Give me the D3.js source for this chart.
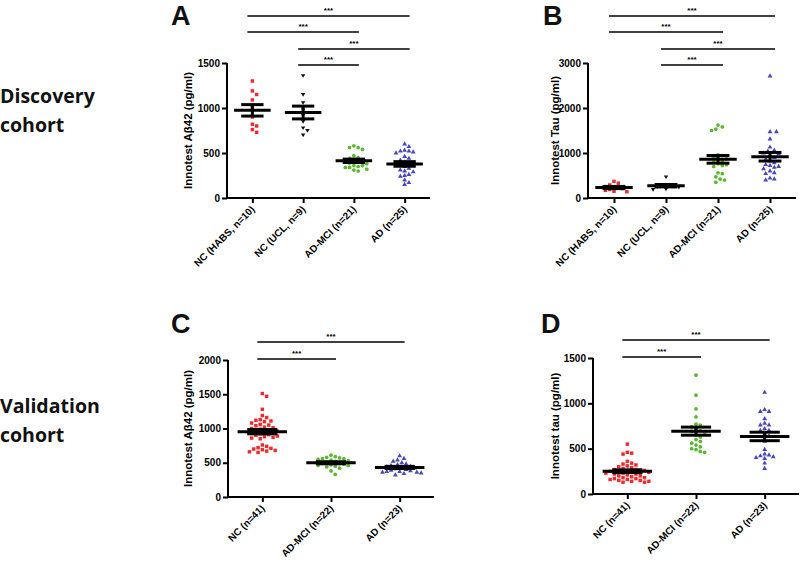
<!DOCTYPE html>
<html><head><meta charset="utf-8">
<script src="https://cdn.jsdelivr.net/npm/d3@7"></script>
<style>body{margin:0;background:#fff}svg{display:block}</style>
</head><body><svg id="c" width="800" height="562"></svg>
<script>
// ---------- data ----------
const catsDiscovery = ["NC (HABS, n=10)", "NC (UCL, n=9)", "AD-MCI (n=21)", "AD (n=25)"];
const catsValidation = ["NC (n=41)", "AD-MCI (n=22)", "AD (n=23)"];

const abDiscNCHABS = [1300,1190,1150,1090,1000,900,820,800,760,730];
const abDiscNCUCL = [1360,1150,1060,980,920,850,780,750,700];
const abDiscMCI = [580,560,560,540,470,450,440,420,410,400,400,390,380,360,360,350,340,340,320,310,300];
const abDiscAD = [600,570,530,520,520,510,500,460,440,420,400,390,380,370,350,330,310,300,290,260,250,240,200,170,150];

const tauDiscNCHABS = [370,330,290,250,230,210,190,170,150,140];
const tauDiscNCUCL = [470,300,280,270,260,250,240,200,190];
const tauDiscMCI = [1620,1580,1530,1500,960,940,900,870,860,820,800,760,740,720,700,560,540,470,420,400,350];
const tauDiscAD = [2710,1470,1470,1310,1130,1060,1040,1000,980,940,900,860,820,780,740,720,700,680,650,600,560,540,440,420,400];

const abValNC = [1510,1470,1280,1190,1160,1130,1120,1110,1100,1000,990,980,970,960,950,940,930,920,910,900,890,880,870,860,850,1050,1040,1020,1010,1080,1060,760,740,720,710,700,690,680,670,660,650];
const abValMCI = [610,590,580,570,560,560,550,540,530,520,510,500,490,480,470,460,460,450,440,420,380,330];
const abValAD = [600,560,540,520,500,480,470,460,450,440,430,420,410,400,390,380,370,370,360,360,350,340,320];

const tauValNC = [550,460,450,440,360,340,330,320,310,300,290,280,270,260,260,250,250,240,240,230,230,220,220,210,200,200,190,180,180,170,170,160,160,150,150,140,140,130,130,260,270];
const tauValMCI = [1310,1090,940,850,770,760,740,720,700,690,680,650,630,600,580,560,540,520,500,490,470,460];
const tauValAD = [1120,930,910,910,830,780,760,760,720,700,700,660,640,580,490,440,430,420,410,400,390,340,280];

const ticksA = [0,500,1000,1500];
const ticksB = [0,1000,2000,3000];
const ticksC = [0,500,1000,1500,2000];
const ticksD = [0,500,1000,1500];

const sigA = [[0,3],[0,2],[1,3],[1,2]];
const sigC = [[0,2],[0,1]];

// ---------- drawing ----------
const svg = d3.select("#c");
const colors = {red:"#ee2a2e", black:"#111", green:"#59b830", blue:"#4646bf"};
const shapes = {red:"sq", black:"down", green:"ci", blue:"tri"};
const FONT = "Liberation Sans, Arial, sans-serif";

function markerPath(kind){
  if(kind==="down") return "M-2.2,-1.4L2.2,-1.4L0,2.2Z";
  if(kind==="sq") return d3.symbol(d3.symbolSquare,12)();
  if(kind==="ci") return d3.symbol(d3.symbolCircle,11)();
  return d3.symbol(d3.symbolTriangle,10)();
}

function beeswarm(vals, y, cx, d){
  const pts = vals.map(v=>({v, y:y(v)})).sort((a,b)=>a.y-b.y);
  const placed=[];
  pts.forEach(p=>{
    for(let k=0;k<60;k++){
      const off = (k===0)?0:(k%2? 1:-1)*Math.ceil(k/2)*d*0.5;
      const x = cx+off;
      if(placed.every(q=>Math.hypot(q.x-x,q.y-p.y)>=d)){p.x=x;placed.push(p);break;}
    }
  });
  return placed;
}

function panel(o){
  const g = svg.append("g");
  const x = d3.scalePoint().domain(o.cats).range([o.x0,o.x1]).padding(0.5);
  const step = x.step();
  const y = d3.scaleLinear().domain([0,o.ymax]).range([o.y0,o.y1]);
  // axes
  const ya = g.append("g").attr("transform",`translate(${o.x0},0)`)
    .call(d3.axisLeft(y).tickValues(o.ticks).tickSize(5).tickPadding(2).tickFormat(d3.format("d")));
  const xa = g.append("g").attr("transform",`translate(0,${o.y0})`)
    .call(d3.axisBottom(x).tickSize(5).tickFormat(""));
  [ya,xa].forEach(a=>{a.select(".domain").attr("stroke","#000").attr("stroke-width",2);
    a.selectAll(".tick line").attr("stroke","#000").attr("stroke-width",2);});
  ya.select(".domain").attr("d",`M0,${o.y1}V${o.y0}`);
  xa.select(".domain").attr("d",`M${o.x0},0H${o.x1}`);
  ya.selectAll(".tick text").attr("font-family",FONT)
    .attr("font-weight","bold").attr("font-size",10).attr("fill","#000");
  // x labels
  o.cats.forEach(c=>{
    g.append("text").attr("transform",`translate(${x(c)+3},${o.y0+12}) rotate(-45)`)
      .attr("text-anchor","end").attr("font-family",FONT)
      .attr("font-weight","bold").attr("font-size",10).attr("fill","#000").text(c);
  });
  // y label
  g.append("text").attr("transform",`translate(${o.ylx},${(o.y0+o.y1)/2}) rotate(-90)`)
    .attr("text-anchor","middle").attr("font-family",FONT)
    .attr("font-weight","bold").attr("font-size",11.5).attr("fill","#000").text(o.ylabel);
  // points and mean/SEM
  o.series.forEach((vals,i)=>{
    const col = o.cols[i];
    const cx = x(o.cats[i]);
    const pts = beeswarm(vals,y,cx,4.3);
    g.append("g").selectAll("path").data(pts).join("path")
      .attr("d",markerPath(shapes[col])).attr("transform",p=>`translate(${p.x},${p.y})`)
      .attr("fill",colors[col]);
    const m = d3.mean(vals), se = d3.deviation(vals)/Math.sqrt(vals.length);
    const mw = step*0.36, cw = step*0.22;
    const lg = g.append("g").attr("stroke","#000").attr("stroke-width",3);
    lg.append("line").attr("x1",cx-mw).attr("x2",cx+mw).attr("y1",y(m)).attr("y2",y(m));
    lg.append("line").attr("x1",cx).attr("x2",cx).attr("y1",y(m-se)).attr("y2",y(m+se));
    [m-se,m+se].forEach(v=>lg.append("line").attr("x1",cx-cw).attr("x2",cx+cw).attr("y1",y(v)).attr("y2",y(v)));
  });
  // significance
  o.sig.forEach((s,i)=>{
    const yy = o.sigY[i];
    const xa0 = x(o.cats[s[0]])-5, xa1 = x(o.cats[s[1]])+5;
    g.append("line").attr("x1",xa0).attr("x2",xa1).attr("y1",yy).attr("y2",yy).attr("stroke","#000").attr("stroke-width",1.5);
    g.append("text").attr("x",(xa0+xa1)/2).attr("y",yy-3).attr("text-anchor","middle")
      .attr("font-family",FONT).attr("font-weight","bold").attr("font-size",8).text("***");
  });
  // letter
  svg.append("text").attr("x",o.lx).attr("y",o.ly).attr("font-family",FONT)
    .attr("font-weight","bold").attr("font-size",27).attr("fill","#111").text(o.letter);
}

panel({cats:catsDiscovery, x0:227,x1:430, y0:198,y1:63, ymax:1500, ticks:ticksA,
  series:[abDiscNCHABS,abDiscNCUCL,abDiscMCI,abDiscAD], cols:["red","black","green","blue"],
  ylabel:"Innotest Aβ42 (pg/ml)", ylx:192, sig:sigA, sigY:[16,32,49,65], letter:"A", lx:171, ly:25});
panel({cats:catsDiscovery, x0:588,x1:796, y0:198,y1:63, ymax:3000, ticks:ticksB,
  series:[tauDiscNCHABS,tauDiscNCUCL,tauDiscMCI,tauDiscAD], cols:["red","black","green","blue"],
  ylabel:"Innotest Tau (pg/ml)", ylx:559, sig:sigA, sigY:[16,32,49,65], letter:"B", lx:543, ly:25});
panel({cats:catsValidation, x0:228,x1:434, y0:497,y1:360, ymax:2000, ticks:ticksC,
  series:[abValNC,abValMCI,abValAD], cols:["red","green","blue"],
  ylabel:"Innotest Aβ42 (pg/ml)", ylx:192, sig:sigC, sigY:[342,359], letter:"C", lx:171, ly:333});
panel({cats:catsValidation, x0:593,x1:799, y0:494,y1:358, ymax:1500, ticks:ticksD,
  series:[tauValNC,tauValMCI,tauValAD], cols:["red","green","blue"],
  ylabel:"Innotest tau (pg/ml)", ylx:559, sig:sigC, sigY:[340,357], letter:"D", lx:541, ly:333});

// cohort labels
[["Discovery",103],["cohort",132],["Validation",413],["cohort",442]].forEach(([t,yy])=>{
  svg.append("text").attr("x",0).attr("y",yy).attr("font-family","Open Sans, sans-serif")
    .attr("font-weight","bold").attr("font-size",19.5).attr("fill","#111").text(t);
});
</script></body></html>
